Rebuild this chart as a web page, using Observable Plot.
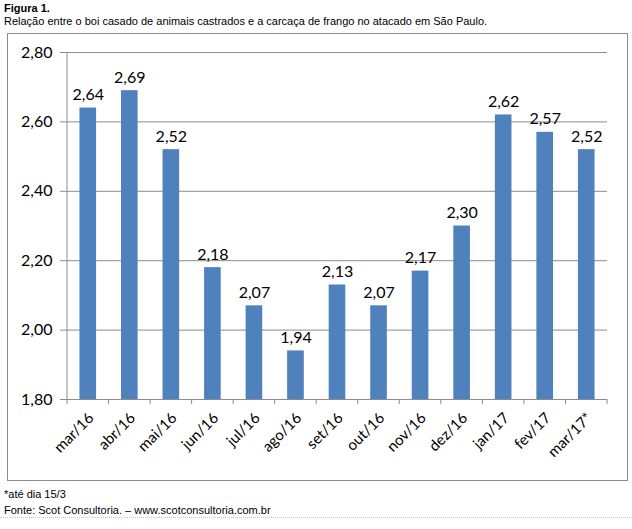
<!DOCTYPE html>
<html><head><meta charset="utf-8">
<script src="https://cdn.jsdelivr.net/npm/d3@7"></script>
<script src="https://cdn.jsdelivr.net/npm/@observablehq/plot@0.6"></script>
<style>
body{margin:0;background:#fff;}
#wrap{position:relative;width:632px;height:529px;overflow:hidden;font-family:"Liberation Sans",Arial,sans-serif;}
#title{position:absolute;left:4px;top:2px;font-size:11px;font-weight:bold;color:#000;}
#sub{position:absolute;left:4px;top:15px;font-size:11px;color:#000;}
#box{position:absolute;left:7px;top:33px;width:619px;height:446px;border:1px solid #8c8c8c;}
#chart{position:absolute;left:0;top:33px;}
#note{position:absolute;left:4px;top:488px;font-size:11px;color:#000;}
#src{position:absolute;left:4px;top:504px;font-size:11px;color:#000;}
#dots{position:absolute;left:0;top:517px;width:632px;border-top:1px dotted #c8c8c8;}
</style></head>
<body><div id="wrap">
<div id="title">Figura 1.</div>
<div id="sub">Relação entre o boi casado de animais castrados e a carcaça de frango no atacado em São Paulo.</div>
<div id="box"></div>
<div id="chart"></div>
<div id="note">*até dia 15/3</div>
<div id="src">Fonte: Scot Consultoria. – www.scotconsultoria.com.br</div>
<div id="dots"></div>
</div>
<script>
const months = ["mar/16","abr/16","mai/16","jun/16","jul/16","ago/16","set/16","out/16","nov/16","dez/16","jan/17","fev/17","mar/17*"];
const values = [2.64,2.69,2.52,2.18,2.07,1.94,2.13,2.07,2.17,2.30,2.62,2.57,2.52];
const yTicks = [1.8,2.0,2.2,2.4,2.6,2.8];
const yMin = 1.8, yMax = 2.8;

const data = months.map((m,i)=>({month:m, value:values[i]}));
const fmt = d => d3.format(".2f")(d).replace(".", ",");

const plot = Plot.plot({
  width: 632, height: 447,
  marginLeft: 67, marginRight: 25, marginTop: 19, marginBottom: 81,
  style: {fontFamily: "Lato, 'Open Sans', sans-serif", fontSize: "16px", color: "#000", background: "transparent"},
  x: {domain: months, paddingInner: 0.6, paddingOuter: 0.3, round: false, label: null},
  y: {domain: [yMin, yMax], label: null},
  marks: [
    Plot.gridY(yTicks, {stroke: "#8c8c8c", strokeOpacity: 1}),
    Plot.axisY(yTicks, {tickFormat: fmt, tickSize: 7, tickPadding: 8, stroke: "#8c8c8c", fontSize: 16, label: null}),
    Plot.barY(data, {x: "month", y1: () => yMin, y2: "value", fill: "#4f81bd"}),
    Plot.text(data, {x: "month", y: "value", text: d => fmt(d.value), dy: -8, lineAnchor: "bottom", fontSize: 16, fill: "#000"}),
    Plot.axisX({tickRotate: -45, tickSize: 0, tickPadding: 16, dx: 3, fontSize: 15, label: null}),
    Plot.ruleY([yMin], {stroke: "#8c8c8c"})
  ]
});
document.getElementById("chart").appendChild(plot);

// category boundary tick marks on x axis, from the plot's x scale
const xs = plot.scale("x");
const ysc = plot.scale("y");
const step = xs.step;
const y0 = ysc.apply(yMin);
const svg = d3.select(plot);
const bounds = months.map(m => xs.apply(m) - (step - xs.bandwidth)/2);
bounds.push(xs.apply(months[months.length-1]) + xs.bandwidth + (step - xs.bandwidth)/2);
svg.append("g").selectAll("line").data(bounds).join("line")
  .attr("x1", d=>d).attr("x2", d=>d).attr("y1", y0).attr("y2", y0+5)
  .attr("stroke", "#8c8c8c");
// y axis line
svg.append("line").attr("x1", xs.range[0]).attr("x2", xs.range[0])
  .attr("y1", ysc.apply(yMax)).attr("y2", y0).attr("stroke", "#8c8c8c");
</script>
</body></html>
